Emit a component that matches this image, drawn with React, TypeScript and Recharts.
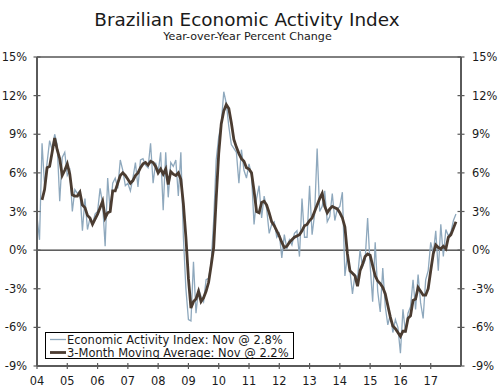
import React from 'react';
import { LineChart, Line, XAxis, YAxis, ReferenceLine } from 'recharts';

// Year-over-year % change, monthly, Jan 2004 - Nov 2017
const index2004 = [2.6, 0.8, 8.3, 5.0, 6.8, 8.5, 7.8, 9.0, 8.2, 3.8, 7.2, 7.6];
const index2005 = [5.8, 6.2, 3.0, 4.7, 4.4, 4.6, 1.5, 4.0, 1.6, 2.5, 2.0, 2.8];
const index2006 = [3.0, 4.8, 3.6, 0.3, 5.6, 3.0, 5.2, 5.6, 4.8, 7.0, 6.2, 5.0];
const index2007 = [5.2, 4.6, 5.6, 6.8, 4.9, 7.0, 7.1, 6.6, 6.4, 8.3, 5.2, 6.8];
const index2008 = [6.0, 7.6, 3.1, 7.6, 4.1, 6.8, 6.5, 7.0, 4.2, 7.6, 1.0, -3.0];
const index2009 = [-5.4, -5.5, -0.9, -4.9, -3.0, -3.6, -4.0, -2.3, -2.2, -1.0, 2.3, 7.0];
const index2010 = [8.8, 9.8, 12.3, 11.4, 9.6, 8.2, 7.9, 7.6, 5.2, 7.8, 6.2, 5.6];
const index2011 = [6.7, 5.8, 2.0, 4.0, 5.0, 2.5, 4.2, 3.2, 1.3, 2.0, 2.2, 1.0];
const index2012 = [1.3, -0.6, 1.2, 0.1, 0.8, 0.4, 1.3, 1.5, -0.5, 4.0, 1.0, 1.0];
const index2013 = [5.0, 1.2, 2.8, 7.9, 3.0, 3.4, 4.6, 2.2, 2.6, 4.4, 2.3, 3.2];
const index2014 = [3.4, 4.5, -2.0, -0.4, -1.6, -3.4, -1.9, -2.2, 0.0, -1.3, -0.8, 2.5];
const index2015 = [-1.2, -4.0, 0.6, -3.2, -4.8, -1.4, -4.4, -5.8, -5.0, -6.4, -5.4, -6.0];
const index2016 = [-8.0, -4.6, -6.4, -4.9, -4.4, -2.3, -4.6, -1.9, -4.1, -5.3, -2.3, -1.6];
const index2017 = [0.6, -0.3, 1.5, -1.6, 2.0, -0.5, 1.6, 1.1, 1.4, 2.3, 2.8];

const ma2004 = [null, null, 3.9, 4.7, 6.4, 6.5, 7.6, 8.7, 7.8, 7.1, 5.8, 6.2];
const ma2005 = [6.7, 5.9, 4.3, 4.2, 4.2, 4.5, 3.5, 3.3, 2.7, 2.5, 2.0, 2.4];
const ma2006 = [2.8, 3.3, 3.8, 2.5, 2.9, 3.0, 4.6, 4.6, 5.2, 5.8, 6.0, 5.8];
const ma2007 = [5.5, 5.2, 5.4, 5.8, 6.0, 6.4, 6.7, 6.8, 6.6, 6.9, 6.8, 6.5];
const ma2008 = [6.0, 6.3, 5.9, 6.3, 5.1, 6.1, 5.9, 5.8, 6.0, 5.5, 3.6, 1.0];
const ma2009 = [-2.2, -4.5, -4.0, -3.8, -3.2, -4.0, -3.7, -3.2, -2.5, -1.2, 0.2, 4.0];
const ma2010 = [7.5, 9.8, 10.8, 11.3, 11.0, 9.9, 8.6, 8.0, 7.5, 7.1, 6.9, 6.4];
const ma2011 = [6.3, 6.0, 4.6, 3.0, 2.9, 3.7, 3.8, 3.5, 2.9, 2.2, 1.9, 1.5];
const ma2012 = [1.1, 0.6, 0.2, 0.3, 0.6, 0.8, 1.0, 1.1, 1.2, 1.5, 1.9, 2.0];
const ma2013 = [2.3, 2.5, 3.0, 3.5, 4.0, 4.4, 3.4, 2.9, 3.2, 3.4, 3.3, 3.2];
const ma2014 = [2.9, 2.5, 1.8, -0.3, -1.6, -1.8, -2.0, -2.8, -1.6, -1.1, -0.5, -0.3];
const ma2015 = [-0.4, -1.2, -2.0, -2.4, -2.6, -2.9, -3.4, -4.3, -5.2, -5.9, -6.1, -6.4];
const ma2016 = [-6.7, -6.3, -6.3, -5.3, -5.1, -3.9, -3.8, -2.9, -3.2, -3.5, -3.5, -3.0];
const ma2017 = [-1.6, -0.3, 0.4, 0.2, 0.1, 0.3, 0.1, 1.0, 1.2, 1.7, 2.2];

const startYear = 2004;
const yearLabels = ['04', '05', '06', '07', '08', '09', '10', '11', '12', '13', '14', '15', '16', '17'];
const yTicks = [-9, -6, -3, 0, 3, 6, 9, 12, 15];

const title = 'Brazilian Economic Activity Index';
const subtitle = 'Year-over-Year Percent Change';
const legendIndex = 'Economic Activity Index: Nov @ 2.8%';
const legendMA = '3-Month Moving Average: Nov @ 2.2%';

const activityIndex: number[] = [
  ...index2004, ...index2005, ...index2006, ...index2007, ...index2008, ...index2009, ...index2010,
  ...index2011, ...index2012, ...index2013, ...index2014, ...index2015, ...index2016, ...index2017,
];
const movingAvg: (number | null)[] = [
  ...ma2004, ...ma2005, ...ma2006, ...ma2007, ...ma2008, ...ma2009, ...ma2010,
  ...ma2011, ...ma2012, ...ma2013, ...ma2014, ...ma2015, ...ma2016, ...ma2017,
];

const data = activityIndex.map((v, i) => ({
  t: startYear + i / 12,
  idx: v,
  ma: movingAvg[i],
}));

const yearTicks = yearLabels.map((_, i) => startYear + i);

const FONT = '"DejaVu Sans", Verdana, sans-serif';
const AXIS = '#5a5a5a';
const IDX_COLOR = '#8ea8bd';
const MA_COLOR = '#4b3c31';
const TXT = '#1a1a1a';

const LeftTick = (props: any) => {
  const { x, y, payload } = props;
  const ax = x + 10;
  return (
    <g>
      <line x1={ax - 3.5} x2={ax + 3.5} y1={y} y2={y} stroke={AXIS} strokeWidth={1.2} />
      <text x={x} y={y} dy="0.36em" textAnchor="end" fontFamily={FONT} fontSize={11.4} fill={TXT}>
        {`${payload.value}%`}
      </text>
    </g>
  );
};

const RightTick = (props: any) => {
  const { x, y, payload } = props;
  const ax = x - 11;
  return (
    <g>
      <line x1={ax - 3.5} x2={ax + 3.5} y1={y} y2={y} stroke={AXIS} strokeWidth={1.2} />
      <text x={x} y={y} dy="0.36em" textAnchor="start" fontFamily={FONT} fontSize={11.4} fill={TXT}>
        {`${payload.value}%`}
      </text>
    </g>
  );
};

const BottomTick = (props: any) => {
  const { x, y, payload, index } = props;
  const ay = y - 19;
  return (
    <g>
      <line x1={x} x2={x} y1={ay - 3} y2={ay + 3} stroke={AXIS} strokeWidth={1.2} />
      <text x={x} y={y} textAnchor="middle" fontFamily={FONT} fontSize={11.4} fill={TXT}>
        {yearLabels[index] ?? ''}
      </text>
    </g>
  );
};

export default function App() {
  return (
    <div style={{ position: 'absolute', left: 0, top: 0, width: 500, height: 389, background: '#fff' }}>
      <LineChart width={500} height={389} data={data} margin={{ top: 57, right: 0, bottom: 0, left: 0 }}>
        <XAxis
          dataKey="t"
          type="number"
          domain={[2004, 2018]}
          ticks={yearTicks}
          interval={0}
          height={23}
          tickSize={0}
          tickMargin={19}
          tickLine={false}
          axisLine={{ stroke: AXIS, strokeWidth: 2 }}
          tick={<BottomTick />}
          allowDataOverflow
        />
        <YAxis
          yAxisId="left"
          orientation="left"
          width={37}
          domain={[-9, 15]}
          ticks={yTicks}
          interval={0}
          tickSize={0}
          tickMargin={10}
          tickLine={false}
          axisLine={{ stroke: AXIS, strokeWidth: 2 }}
          tick={<LeftTick />}
          allowDataOverflow
        />
        <YAxis
          yAxisId="right"
          orientation="right"
          width={39}
          domain={[-9, 15]}
          ticks={yTicks}
          interval={0}
          tickSize={0}
          tickMargin={11}
          tickLine={false}
          axisLine={{ stroke: AXIS, strokeWidth: 2 }}
          tick={<RightTick />}
          allowDataOverflow
        />
        <ReferenceLine yAxisId="left" y={15} stroke="#000" strokeWidth={1} />
        <ReferenceLine yAxisId="left" y={0} stroke="#000" strokeWidth={1} />
        <Line
          yAxisId="left"
          type="linear"
          dataKey="idx"
          stroke={IDX_COLOR}
          strokeWidth={1.3}
          dot={false}
          activeDot={false}
          isAnimationActive={false}
        />
        <Line
          yAxisId="left"
          type="linear"
          dataKey="ma"
          stroke={MA_COLOR}
          strokeWidth={2.8}
          dot={false}
          activeDot={false}
          connectNulls={false}
          isAnimationActive={false}
        />
      </LineChart>

      <svg width={500} height={60} style={{ position: 'absolute', left: 0, top: 0, pointerEvents: 'none' }}>
        <text x={247} y={25.5} textAnchor="middle" fontFamily={FONT} fontSize={18.4} fill={TXT}>
          {title}
        </text>
        <text x={247.5} y={40} textAnchor="middle" fontFamily={FONT} fontSize={11.1} fill={TXT}>
          {subtitle}
        </text>
      </svg>

      <div
        style={{
          position: 'absolute',
          left: 45,
          top: 332,
          width: 247,
          height: 25,
          border: '1px solid #000',
          background: '#fff',
        }}
      >
        <svg width={247} height={25} style={{ display: 'block' }}>
          <line x1={4} x2={20} y1={6.5} y2={6.5} stroke={IDX_COLOR} strokeWidth={1.3} />
          <text x={21} y={10.5} fontFamily={FONT} fontSize={11.5} fill={TXT}>
            {legendIndex}
          </text>
          <line x1={4} x2={20} y1={19.5} y2={19.5} stroke={MA_COLOR} strokeWidth={2.8} />
          <text x={21} y={23.5} fontFamily={FONT} fontSize={11.5} fill={TXT}>
            {legendMA}
          </text>
        </svg>
      </div>
    </div>
  );
}
